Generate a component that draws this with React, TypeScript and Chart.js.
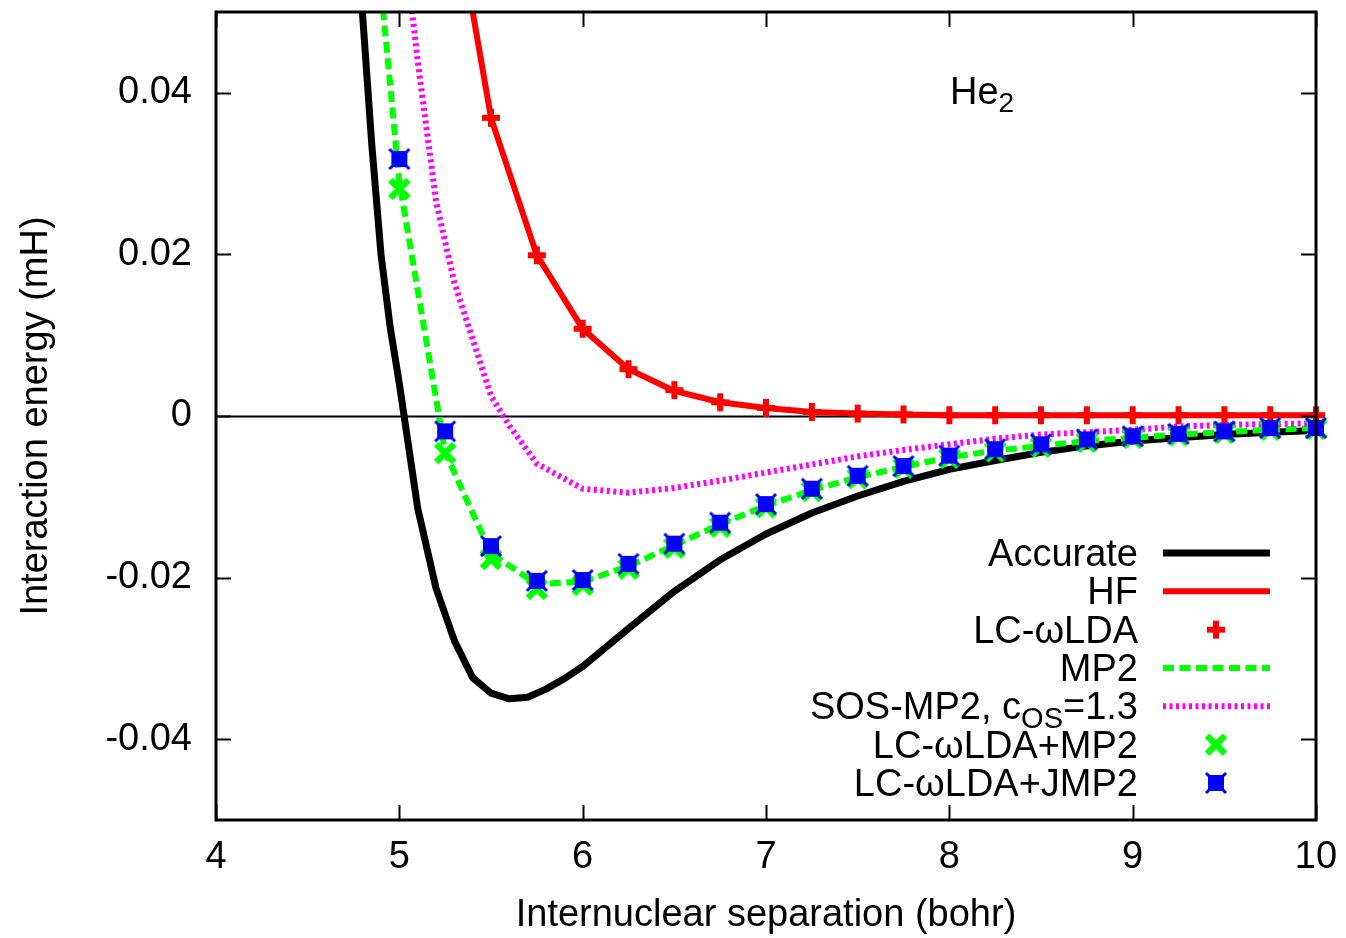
import React, { useEffect, useRef } from "react";
import { Chart, registerables } from "chart.js";

Chart.register(...registerables);

// ---- axis ticks ----
const xTicks = [4, 5, 6, 7, 8, 9, 10];
const xTickLabels = ["4", "5", "6", "7", "8", "9", "10"];
const yTicks = [-0.04, -0.02, 0, 0.02, 0.04];
const yTickLabels = ["-0.04", "-0.02", "0", "0.02", "0.04"];

// ---- Accurate (reference potential) ----
const accurateR = [4.75, 4.8, 4.85, 4.9, 4.95, 5.0, 5.1, 5.2, 5.3, 5.4, 5.5, 5.6, 5.7, 5.8, 5.9, 6.0, 6.25, 6.5, 6.75, 7.0, 7.25, 7.5, 7.75, 8.0, 8.25, 8.5, 8.75, 9.0, 9.25, 9.5, 9.75, 10.0];
const accurateE = [0.071, 0.0495, 0.0335, 0.0200, 0.011, 0.004, -0.0114, -0.0213, -0.0278, -0.0324, -0.0343, -0.035, -0.0348, -0.0338, -0.0325, -0.031, -0.0263, -0.0217, -0.0178, -0.0146, -0.012, -0.0099, -0.0081, -0.0066, -0.0055, -0.0045, -0.0037, -0.0031, -0.0027, -0.0023, -0.002, -0.0018];

// ---- HF ----
const hfR = [5.0, 5.25, 5.5, 5.75, 6.0, 6.25, 6.5, 6.75, 7.0, 7.25, 7.5, 7.75, 8.0, 8.25, 8.5, 8.75, 9.0, 9.25, 9.5, 9.75, 10.0];
const hfE = [0.13, 0.0697, 0.0369, 0.0199, 0.0108, 0.0058, 0.0031, 0.0017, 0.001, 0.0005, 0.0003, 0.0002, 0.0001, 0.0001, 0.0001, 0.0001, 0.0001, 0.0001, 0.0001, 0.0001, 0.0001];

// ---- LC-wLDA (points) ----
const lcR = [5.5, 5.75, 6.0, 6.25, 6.5, 6.75, 7.0, 7.25, 7.5, 7.75, 8.0, 8.25, 8.5, 8.75, 9.0, 9.25, 9.5, 9.75, 10.0];
const lcE = [0.0369, 0.0199, 0.0108, 0.0058, 0.0032, 0.0017, 0.001, 0.0005, 0.0003, 0.0002, 0.0001, 0.0001, 0.0001, 0.0001, 0.0001, 0.0001, 0.0001, 0.0001, 0.0001];

// ---- MP2 ----
const mp2R = [4.75, 5.0, 5.25, 5.5, 5.75, 6.0, 6.25, 6.5, 6.75, 7.0, 7.25, 7.5, 7.75, 8.0, 8.25, 8.5, 8.75, 9.0, 9.25, 9.5, 9.75, 10.0];
const mp2E = [0.089, 0.029, -0.0045, -0.017, -0.0208, -0.0205, -0.0186, -0.016, -0.0134, -0.0111, -0.0092, -0.0076, -0.0063, -0.0051, -0.0043, -0.0037, -0.0031, -0.0027, -0.0023, -0.002, -0.0017, -0.0015];

// ---- SOS-MP2, c_OS = 1.3 ----
const sosR = [4.9, 5.0, 5.1, 5.2, 5.3, 5.4, 5.5, 5.6, 5.75, 6.0, 6.25, 6.5, 6.75, 7.0, 7.25, 7.5, 7.75, 8.0, 8.25, 8.5, 8.75, 9.0, 9.25, 9.5, 9.75, 10.0];
const sosE = [0.095, 0.064, 0.044, 0.0266, 0.0165, 0.0095, 0.0025, -0.0012, -0.0059, -0.009, -0.0095, -0.0089, -0.008, -0.007, -0.006, -0.005, -0.0042, -0.0035, -0.0028, -0.0023, -0.002, -0.0017, -0.0013, -0.0011, -0.001, -0.0009];

// ---- LC-wLDA+MP2 and LC-wLDA+JMP2 (points) ----
const markR = [5.0, 5.25, 5.5, 5.75, 6.0, 6.25, 6.5, 6.75, 7.0, 7.25, 7.5, 7.75, 8.0, 8.25, 8.5, 8.75, 9.0, 9.25, 9.5, 9.75, 10.0];
const lcMp2E = [0.0281, -0.0046, -0.0177, -0.0214, -0.0209, -0.0189, -0.0163, -0.0137, -0.0113, -0.0093, -0.0077, -0.0064, -0.0052, -0.0044, -0.0038, -0.0032, -0.0027, -0.0024, -0.0021, -0.0017, -0.0016];
const lcJmp2E = [0.0318, -0.0019, -0.0161, -0.0204, -0.0203, -0.0183, -0.0158, -0.0132, -0.0109, -0.009, -0.0074, -0.0062, -0.0049, -0.0041, -0.0035, -0.0029, -0.0025, -0.0022, -0.0019, -0.0015, -0.0015];

const FONT = '"Liberation Sans", Arial, Helvetica, sans-serif';
const FS = 38;

const zip = (xs: number[], ys: number[]) => xs.map((x, i) => ({ x, y: ys[i] }));

function makePlus(color: string) {
  const c = document.createElement("canvas");
  c.width = 20; c.height = 20;
  const g = c.getContext("2d")!;
  g.fillStyle = color;
  g.fillRect(1, 7, 18, 6);
  g.fillRect(7, 1, 6, 18);
  return c;
}
function makeX(color: string) {
  const c = document.createElement("canvas");
  c.width = 26; c.height = 26;
  const g = c.getContext("2d")!;
  g.strokeStyle = color; g.lineWidth = 6.5; g.lineCap = "butt";
  g.beginPath();
  g.moveTo(4, 4); g.lineTo(22, 22);
  g.moveTo(22, 4); g.lineTo(4, 22);
  g.stroke();
  return c;
}
function makeBox(color: string) {
  const c = document.createElement("canvas");
  c.width = 24; c.height = 24;
  const g = c.getContext("2d")!;
  g.fillStyle = color;
  g.fillRect(4, 4, 16, 16);
  g.strokeStyle = color; g.lineWidth = 3;
  g.beginPath();
  g.moveTo(2, 2); g.lineTo(22, 22);
  g.moveTo(22, 2); g.lineTo(2, 22);
  g.stroke();
  return c;
}

const gnuplotPlugin = {
  id: "gnuplotFrame",
  beforeDatasetsDraw(chart: any) {
    const { ctx, chartArea: a, scales } = chart;
    const y0 = Math.round(scales.y.getPixelForValue(0)) + 0.5;
    ctx.save();
    ctx.strokeStyle = "#000";
    ctx.lineWidth = 2;
    ctx.beginPath();
    ctx.moveTo(a.left, y0);
    ctx.lineTo(a.right, y0);
    ctx.stroke();
    ctx.restore();
  },
  afterDatasetsDraw(chart: any) {
    const { ctx, chartArea: a, scales } = chart;
    ctx.save();
    ctx.strokeStyle = "#000";
    ctx.lineWidth = 2;
    const TL = 15;
    ctx.beginPath();
    yTicks.forEach((v) => {
      const p = Math.round(scales.y.getPixelForValue(v)) + 0.5;
      ctx.moveTo(a.left, p); ctx.lineTo(a.left + TL, p);
      ctx.moveTo(a.right, p); ctx.lineTo(a.right - TL, p);
    });
    xTicks.forEach((v) => {
      const p = Math.round(scales.x.getPixelForValue(v)) + 0.5;
      ctx.moveTo(p, a.bottom); ctx.lineTo(p, a.bottom - TL);
      ctx.moveTo(p, a.top); ctx.lineTo(p, a.top + TL);
    });
    ctx.stroke();
    ctx.lineWidth = 3;
    ctx.strokeRect(a.left, a.top, a.right - a.left, a.bottom - a.top);

    // He2 label
    ctx.fillStyle = "#000";
    ctx.textBaseline = "alphabetic";
    ctx.textAlign = "left";
    ctx.font = `${FS}px ${FONT}`;
    ctx.fillText("He", 950, 104);
    const heW = ctx.measureText("He").width;
    ctx.font = `28px ${FONT}`;
    ctx.fillText("2", 950 + heW, 112);

    // legend
    const textRight = 1138;
    const sx0 = 1163, sx1 = 1270, sxc = 1216;
    const rowY0 = 553, rowStep = 38.33;
    chart.data.datasets.forEach((ds: any, i: number) => {
      const cy = rowY0 + i * rowStep;
      const base = cy + 13;
      ctx.fillStyle = "#000";
      ctx.textAlign = "right";
      if (ds.legendSub) {
        ctx.font = `${FS}px ${FONT}`;
        const wTail = ctx.measureText(ds.legendTail).width;
        ctx.fillText(ds.legendTail, textRight, base);
        ctx.font = `29px ${FONT}`;
        const wSub = ctx.measureText(ds.legendSub).width;
        ctx.fillText(ds.legendSub, textRight - wTail, base + 9);
        ctx.font = `${FS}px ${FONT}`;
        ctx.fillText(ds.legendHead, textRight - wTail - wSub, base);
      } else {
        ctx.font = `${FS}px ${FONT}`;
        ctx.fillText(ds.label, textRight, base);
      }
      if (ds.showLine) {
        ctx.strokeStyle = ds.borderColor;
        ctx.lineWidth = ds.borderWidth;
        ctx.setLineDash(ds.borderDash || []);
        ctx.lineCap = "butt";
        ctx.beginPath();
        ctx.moveTo(sx0, cy);
        ctx.lineTo(sx1, cy);
        ctx.stroke();
        ctx.setLineDash([]);
      } else if (ds.pointStyle && typeof ds.pointStyle !== "string") {
        const img = ds.pointStyle;
        ctx.drawImage(img, sxc - img.width / 2, cy - img.height / 2);
      }
    });
    ctx.restore();
  },
};

export default function App() {
  const ref = useRef<HTMLCanvasElement | null>(null);
  useEffect(() => {
    if (!ref.current) return;
    const plus = makePlus("#ff0000");
    const xmark = makeX("#00ff00");
    const box = makeBox("#0000ff");
    const lineDs = (label: string, xs: number[], ys: number[], color: string, width: number, dash: number[], order: number, extra: any = {}) => ({
      label,
      data: zip(xs, ys),
      borderColor: color,
      backgroundColor: color,
      borderWidth: width,
      borderDash: dash,
      borderCapStyle: "butt",
      borderJoinStyle: "round",
      pointRadius: 0,
      pointHoverRadius: 0,
      showLine: true,
      tension: 0,
      clip: 0,
      order,
      ...extra,
    });
    const pointDs = (label: string, xs: number[], ys: number[], img: HTMLCanvasElement, order: number) => ({
      label,
      data: zip(xs, ys),
      showLine: false,
      pointStyle: img,
      pointRadius: 10,
      pointHoverRadius: 10,
      borderWidth: 0,
      clip: false,
      order,
    });
    const chart = new Chart(ref.current, {
      type: "scatter",
      data: {
        datasets: [
          lineDs("Accurate", accurateR, accurateE, "#000000", 7, [], 7),
          lineDs("HF", hfR, hfE, "#ff0000", 6, [], 6),
          pointDs("LC-\u03c9LDA", lcR, lcE, plus, 5),
          lineDs("MP2", mp2R, mp2E, "#00ff00", 6, [11, 5.5], 4),
          lineDs("SOS-MP2, cOS=1.3", sosR, sosE, "#ff00ff", 6, [3, 3.5], 3, {
            legendHead: "SOS-MP2, c",
            legendSub: "OS",
            legendTail: "=1.3",
          }),
          pointDs("LC-\u03c9LDA+MP2", markR, lcMp2E, xmark, 2),
          pointDs("LC-\u03c9LDA+JMP2", markR, lcJmp2E, box, 1),
        ] as any,
      },
      options: {
        animation: false,
        responsive: false,
        devicePixelRatio: 1,
        events: [],
        layout: { padding: { left: 0, top: 12, right: 30, bottom: 0 } },
        plugins: {
          legend: { display: false },
          tooltip: { enabled: false },
          title: { display: false },
        },
        scales: {
          x: {
            type: "linear",
            min: 4,
            max: 10,
            grid: { display: false, drawTicks: false },
            border: { display: false },
            afterBuildTicks: (s: any) => {
              s.ticks = xTicks.map((v) => ({ value: v }));
            },
            afterFit: (s: any) => {
              s.height = 118;
              s.paddingLeft = 0;
              s.paddingRight = 0;
            },
            ticks: {
              color: "#000",
              padding: 15,
              maxRotation: 0,
              autoSkip: false,
              font: { family: FONT, size: FS },
              callback: (v: any) => xTickLabels[xTicks.indexOf(Number(v))],
            },
            title: {
              display: true,
              text: "Internuclear separation (bohr)",
              color: "#000",
              font: { family: FONT, size: FS },
              padding: { top: 0, bottom: 0 },
            },
          },
          y: {
            type: "linear",
            min: -0.05,
            max: 0.05,
            grid: { display: false, drawTicks: false },
            border: { display: false },
            afterBuildTicks: (s: any) => {
              s.ticks = yTicks.map((v) => ({ value: v }));
            },
            afterFit: (s: any) => {
              s.width = 216;
              s.paddingTop = 0;
              s.paddingBottom = 0;
            },
            ticks: {
              color: "#000",
              padding: 24,
              autoSkip: false,
              font: { family: FONT, size: FS },
              callback: (v: any) => yTickLabels[yTicks.indexOf(Number(v))],
            },
            title: {
              display: true,
              text: "Interaction energy (mH)",
              color: "#000",
              font: { family: FONT, size: FS },
              padding: { top: 14, bottom: 0 },
            },
          },
        },
      } as any,
      plugins: [gnuplotPlugin as any],
    });
    return () => chart.destroy();
  }, []);
  return (
    <div style={{ position: "absolute", left: 0, top: 0, width: 1346, height: 938, background: "#fff" }}>
      <canvas ref={ref} width={1346} height={938} style={{ display: "block" }} />
    </div>
  );
}
